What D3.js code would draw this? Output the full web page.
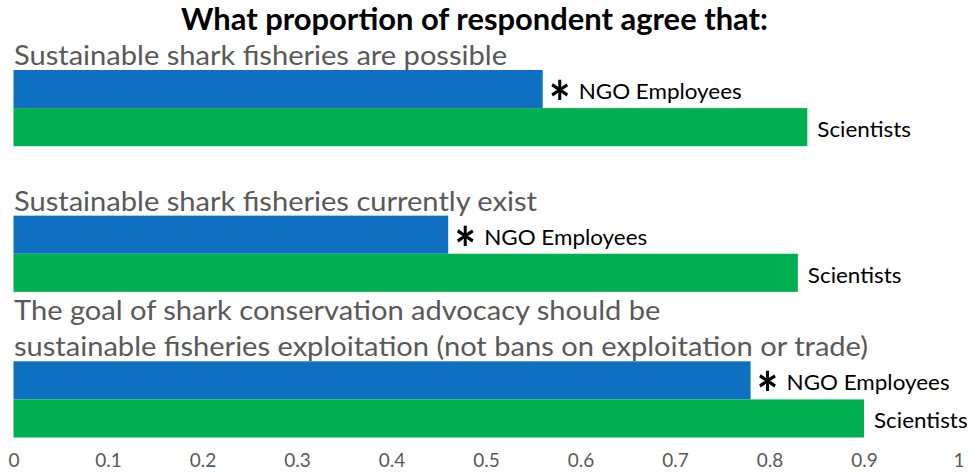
<!DOCTYPE html>
<html>
<head>
<meta charset="utf-8">
<script src="https://cdn.jsdelivr.net/npm/d3@7"></script>
<style>
  html, body { margin: 0; padding: 0; background: #fff; }
  svg { display: block; }
  text { font-family: Lato, "Open Sans", sans-serif; }
</style>
</head>
<body>
<svg id="chart" width="972" height="472"></svg>
<script>
// ---- data ----
const title = "What proportion of respondent agree that:";
const categories = ["possible", "exist", "goal"];
const categoryLines = [
  ["Sustainable shark fisheries are possible"],
  ["Sustainable shark fisheries currently exist"],
  ["The goal of shark conservation advocacy should be",
   "sustainable fisheries exploitation (not bans on exploitation or trade)"]
];
const seriesNames = ["NGO Employees", "Scientists"];
const ngoValues = [0.56, 0.46, 0.78];
const scientistValues = [0.84, 0.83, 0.90];
const significant = [true, true, true];
const tickValues = [0, 0.1, 0.2, 0.3, 0.4, 0.5, 0.6, 0.7, 0.8, 0.9, 1];
const tickLabels = ["0", "0.1", "0.2", "0.3", "0.4", "0.5", "0.6", "0.7", "0.8", "0.9", "1"];
const colors = { "NGO Employees": "#0F6FC1", "Scientists": "#00B050" };

// ---- layout ----
const svg = d3.select("#chart");
const x = d3.scaleLinear().domain([0, 1]).range([13.5, 958.5]);
const y = d3.scaleBand().domain(categories).range([70, 437.5])
  .paddingInner(69.5 / 145.75).paddingOuter(0);
const ySub = d3.scaleBand().domain(seriesNames).range([0, y.bandwidth()]);

const rows = categories.map((c, i) => ({
  cat: c, lines: categoryLines[i],
  values: [
    { series: "NGO Employees", value: ngoValues[i], star: significant[i] },
    { series: "Scientists", value: scientistValues[i], star: false }
  ]
}));

// horizontal condensing helper (approximates Calibri's narrow letterforms)
function condense(sel, factor) {
  sel.each(function () {
    const w = this.getComputedTextLength();
    d3.select(this).attr("textLength", w * factor).attr("lengthAdjust", "spacingAndGlyphs");
  });
}

// title
const titleText = svg.append("text")
  .attr("x", 474.5).attr("y", 30)
  .attr("text-anchor", "middle")
  .attr("font-weight", "bold")
  .attr("font-size", 30)
  .attr("fill", "#000")
  .text(title);

// category labels
const catLabels = svg.append("g").selectAll("g").data(rows).join("g");
catLabels.each(function (d) {
  const n = d.lines.length;
  const top = y(d.cat);
  d3.select(this).selectAll("text").data(d.lines).join("text")
    .attr("class", "catlabel")
    .attr("x", 14)
    .attr("y", (l, j) => top - 5 - (n - 1 - j) * 36)
    .attr("font-size", 26)
    .attr("fill", "#595959")
    .text(l => l);
});

// bars
const groups = svg.append("g").selectAll("g").data(rows).join("g")
  .attr("transform", d => `translate(0,${y(d.cat)})`);

groups.selectAll("rect").data(d => d.values).join("rect")
  .attr("x", x(0))
  .attr("y", d => ySub(d.series))
  .attr("width", d => x(d.value) - x(0))
  .attr("height", ySub.bandwidth())
  .attr("fill", d => colors[d.series]);

// asterisks
groups.selectAll("text.star").data(d => d.values.filter(v => v.star)).join("text")
  .attr("class", "star")
  .attr("x", d => x(d.value) + 6)
  .attr("y", d => ySub(d.series) + 55)
  .attr("font-family", "DejaVu Sans")
  .attr("font-weight", "bold")
  .attr("font-size", 60)
  .attr("fill", "#000")
  .attr("textLength", 22)
  .attr("lengthAdjust", "spacingAndGlyphs")
  .text("*");

// series labels
const seriesLabels = groups.selectAll("text.series").data(d => d.values).join("text")
  .attr("class", "series")
  .attr("x", d => x(d.value) + (d.star ? 36 : 10))
  .attr("y", d => ySub(d.series) + 29)
  .attr("font-size", 21)
  .attr("fill", "#000")
  .text(d => d.series);

// x axis
const axis = d3.axisBottom(x)
  .tickValues(tickValues)
  .tickFormat((d, i) => tickLabels[i])
  .tickSize(0)
  .tickPadding(0);
const axG = svg.append("g").attr("transform", "translate(0,467)").call(axis);
axG.select(".domain").remove();
axG.attr("font-size", 19).attr("font-family", "Lato, 'Open Sans', sans-serif");
axG.selectAll("text")
  .attr("fill", "#595959")
  .attr("dy", "0");

// condense text to match the reference's narrow typeface
const tw = titleText.node().getComputedTextLength();
condense(titleText, 587 / tw);
const firstCat = svg.select("text.catlabel").node().getComputedTextLength();
condense(svg.selectAll("text.catlabel"), 493 / firstCat);
let ngoW = 0;
seriesLabels.each(function (d) { if (d.series === "NGO Employees" && !ngoW) ngoW = this.getComputedTextLength(); });
condense(seriesLabels, 163 / ngoW);
</script>
</body>
</html>
